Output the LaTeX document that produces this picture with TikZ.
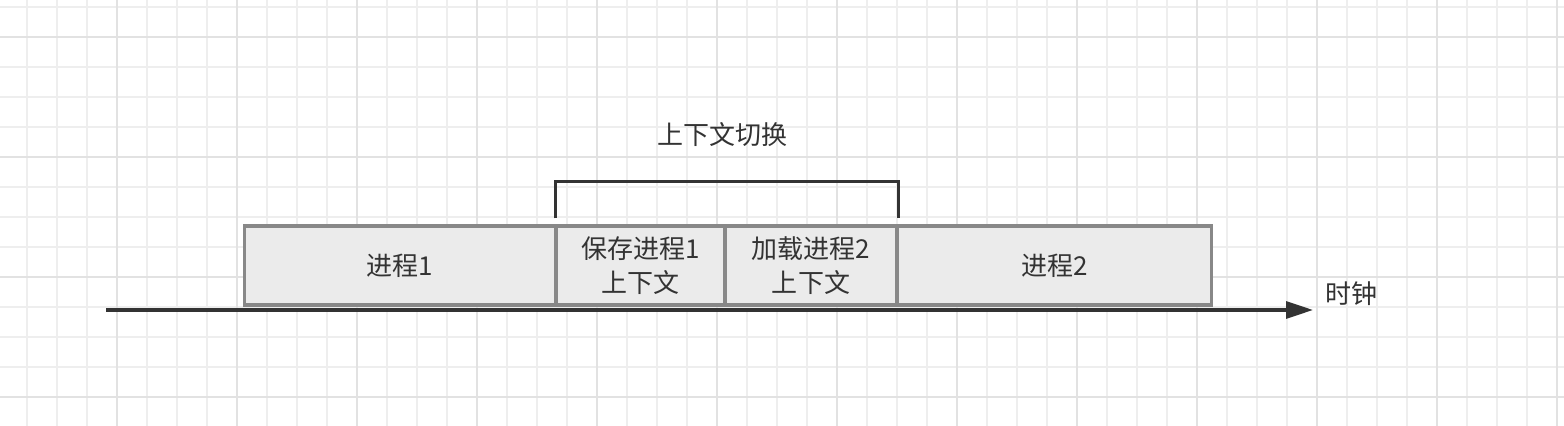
\documentclass[tikz,border=0pt]{standalone}
\usepackage{fontspec}
\setmainfont{Noto Sans CJK SC}
\usepackage{tikz}
\usetikzlibrary{arrows.meta}

\begin{document}
\begin{tikzpicture}[
    gridminor/.style={draw=gridlight, line width=0.035cm},
    gridmajor/.style={draw=griddark, line width=0.035cm},
    procbox/.style={draw=boxline, fill=boxfill, line width=0.066cm, inner sep=0pt, outer sep=0pt,
      minimum height=1.58cm, align=center, text=textdark, font=\fontsize{14.8}{19.75}\selectfont},
    lbl/.style={text=textdark, inner sep=0pt, font=\fontsize{14.8}{19.75}\selectfont},
    bracketline/.style={draw=textdark, line width=0.06cm},
    clockline/.style={draw=textdark, line width=0.066cm, -{Triangle[length=0.54cm,width=0.34cm]}}
  ]
    % Colores
    \definecolor{gridlight}{RGB}{238,238,238}
    \definecolor{griddark}{RGB}{226,226,226}
    \definecolor{boxfill}{RGB}{235,235,235}
    \definecolor{boxline}{RGB}{136,136,136}
    \definecolor{textdark}{RGB}{51,51,51}

    % Fondo y cuadricula
    \fill[white] (0,0) rectangle (31.28,8.52);
    \useasboundingbox (0,0) rectangle (31.28,8.52);
    \foreach \i in {0,...,51} \draw[gridminor] ({0.534+0.6*\i},0) -- ++(0,8.52);
    \foreach \j in {0,...,13} \draw[gridminor] (0,{8.386-0.6*\j}) -- ++(31.28,0);
    \foreach \i in {0,...,12} \draw[gridmajor] ({2.334+2.4*\i},0) -- ++(0,8.52);
    \foreach \j in {0,...,3} \draw[gridmajor] (0,{7.786-2.4*\j}) -- ++(31.28,0);

    % Eje del reloj
    \coordinate (tstart) at (2.12,2.32);
    \coordinate (tend) at (26.26,2.32);
    \draw[clockline] (tstart) -- (tend);
    \node[lbl, anchor=west] (clk) at (26.5,2.653) {时钟};

    % Bloques de procesos
    \node[procbox, minimum width=6.236cm] (p1) at (8.002,3.21) {进程1};
    \node[procbox, minimum width=3.38cm] (save) at (12.81,3.21) {保存进程1\\上下文};
    \node[procbox, minimum width=3.44cm] (load) at (16.22,3.21) {加载进程2\\上下文};
    \node[procbox, minimum width=6.294cm] (p2) at (21.087,3.21) {进程2};

    % Corchete del cambio de contexto
    \coordinate (bl) at (11.114,4.154);
    \coordinate (br) at (17.96,4.154);
    \draw[bracketline] (bl) -- ++(0,0.732) -| (br);
    \node[lbl] (ctx) at (14.45,5.82) {上下文切换};
  \end{tikzpicture}
\end{document}
